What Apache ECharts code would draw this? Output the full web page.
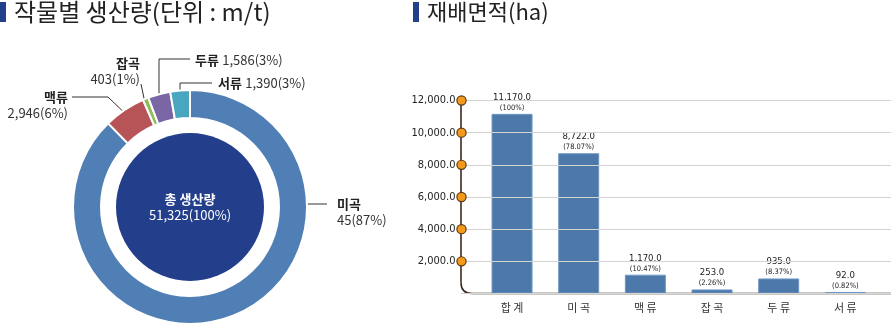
<!DOCTYPE html>
<html>
<head>
<meta charset="utf-8">
<script src="https://cdn.jsdelivr.net/npm/echarts@6/dist/echarts.min.js"></script>
<style>
html, body { margin: 0; padding: 0; background: #fff; }
#chart { width: 891px; height: 328px; }
</style>
</head>
<body>
<div id="chart"></div>
<script>
// Production by crop (m/t)
const cropNames = ['미곡', '맥류', '잡곡', '두류', '서류'];
const cropOutput = [45000, 2946, 403, 1586, 1390];
const cropOutputText = ['45', '2,946', '403', '1,586', '1,390'];
const cropShare = [87, 6, 1, 3, 3];
const totalLabel = '총 생산량';
const totalOutput = 51325;

// Cultivated area (ha)
const areaCategories = ['합 계', '미 곡', '맥 류', '잡 곡', '두 류', '서 류'];
const areaValues = [11170, 8722, 1170, 253, 935, 92];
const areaShares = ['100%', '78.07%', '10.47%', '2.26%', '8.37%', '0.82%'];
const areaAxisMax = 12000;
const areaAxisStep = 2000;

const cropColors = ['#4f7fb4', '#b65457', '#8dbd5a', '#7a66a4', '#48a7bf'];
const KR = "'Noto Sans CJK KR', 'Noto Sans', sans-serif";
const NARROW = "'Liberation Sans Narrow', 'DejaVu Sans Condensed', sans-serif";

// Where each donut label sits, and the bent leader line that points into its slice
const pieLabelPlace = [
  { x: 337, y: 196, align: 'left',  va: 'top',    line: [[292, 204], [310, 204], [327, 204]] },
  { x: 68,  y: 89,  align: 'right', va: 'top',    line: [[132, 120], [108, 97], [72, 97]] },
  { x: 140, y: 55,  align: 'right', va: 'top',    line: [[150, 122], [145, 103], [141, 84]] },
  { x: 195, y: 60,  align: 'left',  va: 'middle', line: [[159, 107], [159, 59], [190, 59]] },
  { x: 218, y: 83,  align: 'left',  va: 'middle', line: [[180, 103], [180, 83], [212, 83]] }
];

const fmt1 = v => v.toLocaleString('en-US', { minimumFractionDigits: 1, maximumFractionDigits: 1 });

const pieData = cropNames.map((n, i) => ({
  name: n,
  value: cropOutput[i],
  itemStyle: { color: cropColors[i] }
}));

// Bar plot area and the wider frame that carries the value axis
const plotTop = 100.5, plotBottom = 34.5;
const frameLeft = 461;
const baseY = 328 - plotBottom;
const cornerR = 11;
const frameStyle = { stroke: '#3b2a20', lineWidth: 1.6, fill: null };

const chart = echarts.init(document.getElementById('chart'), null, { renderer: 'canvas' });

chart.setOption({
  animation: false,
  backgroundColor: '#fff',
  title: [
    {
      text: '작물별 생산량(단위 : m/t)', left: 14, top: 0, padding: 0,
      textStyle: { fontFamily: KR, fontSize: 24, fontWeight: 'normal', color: '#222', lineHeight: 24 }
    },
    {
      text: '재배면적(ha)', left: 427, top: 0, padding: 0,
      textStyle: { fontFamily: KR, fontSize: 22, fontWeight: 'normal', color: '#222', lineHeight: 24 }
    }
  ],
  graphic: [
    { type: 'rect', shape: { x: 0, y: 2, width: 6, height: 20 }, style: { fill: '#233f8c' } },
    { type: 'rect', shape: { x: 413, y: 2, width: 6, height: 20 }, style: { fill: '#233f8c' } },
    {
      type: 'line', z: 1,
      shape: { x1: frameLeft, y1: plotTop, x2: frameLeft, y2: baseY - cornerR },
      style: frameStyle
    },
    {
      type: 'bezierCurve', z: 1,
      shape: {
        x1: frameLeft, y1: baseY - cornerR,
        cpx1: frameLeft, cpy1: baseY,
        x2: frameLeft + cornerR, y2: baseY
      },
      style: frameStyle
    },
    {
      type: 'line', z: 1,
      shape: { x1: frameLeft + cornerR, y1: baseY, x2: 891, y2: baseY },
      style: frameStyle
    }
  ],
  grid: [
    { left: 478.7, right: 12.3, top: plotTop, bottom: plotBottom },
    { left: frameLeft, right: 0, top: plotTop, bottom: plotBottom }
  ],
  xAxis: [
    {
      type: 'category', gridIndex: 0, data: areaCategories,
      axisLine: { show: false }, axisTick: { show: false },
      axisLabel: { margin: 9, fontFamily: KR, fontSize: 11, color: '#333' }
    },
    { type: 'value', gridIndex: 1, min: 0, max: 1, show: false }
  ],
  yAxis: [
    { type: 'value', gridIndex: 0, min: 0, max: areaAxisMax, interval: areaAxisStep, show: false },
    {
      type: 'value', gridIndex: 1, min: 0, max: areaAxisMax, interval: areaAxisStep, z: 10,
      axisLine: { show: false }, axisTick: { show: false },
      splitLine: { lineStyle: { color: '#d3d3d3', width: 1 } },
      axisLabel: {
        margin: -4.5,
        formatter: v => v === 0 ? '' : '{t|' + fmt1(v) + '}{d|}',
        rich: {
          t: { fontFamily: NARROW, fontSize: 11, color: '#222', padding: [0, 2, 0, 0] },
          d: {
            width: 8, height: 8, borderRadius: 4, verticalAlign: 'middle',
            backgroundColor: '#f39a1c', borderColor: '#5a3a1a', borderWidth: 1.2
          }
        }
      }
    }
  ],
  series: [
    {
      type: 'pie',
      center: [190, 207],
      radius: [89, 117],
      startAngle: 90,
      clockwise: true,
      avoidLabelOverlap: false,
      silent: true,
      itemStyle: { borderColor: '#fff', borderWidth: 2 },
      data: pieData,
      label: {
        show: true,
        position: 'outside',
        formatter: p => {
          const i = p.dataIndex;
          const value = cropOutputText[i] + '(' + cropShare[i] + '%)';
          return pieLabelPlace[i].va === 'top'
            ? '{n|' + p.name + '}\n{v|' + value + '}'
            : '{n|' + p.name + '} {v|' + value + '}';
        },
        rich: {
          n: { fontFamily: KR, fontSize: 13, fontWeight: 'bold', color: '#222', lineHeight: 16 },
          v: { fontFamily: KR, fontSize: 13, color: '#333', lineHeight: 16 }
        }
      },
      labelLine: { show: true, lineStyle: { color: '#333', width: 1 } },
      labelLayout: p => {
        const s = pieLabelPlace[p.dataIndex];
        return { x: s.x, y: s.y, align: s.align, verticalAlign: s.va, labelLinePoints: s.line };
      }
    },
    {
      type: 'pie',
      center: [190, 207],
      radius: [0, 74],
      silent: true,
      data: [{ name: totalLabel, value: totalOutput, itemStyle: { color: '#233f8c' } }],
      label: {
        show: true,
        position: 'center',
        formatter: p => '{n|' + p.name + '}\n{v|' + p.value.toLocaleString('en-US') + '(100%)}',
        rich: {
          n: { fontFamily: KR, fontSize: 13, fontWeight: 'bold', color: '#fff', lineHeight: 16 },
          v: { fontFamily: KR, fontSize: 13, color: '#fff', lineHeight: 16 }
        }
      },
      labelLine: { show: false }
    },
    {
      type: 'bar',
      xAxisIndex: 0, yAxisIndex: 0,
      barWidth: 41,
      data: areaValues,
      itemStyle: { color: '#4d78aa', borderColor: '#7096c2', borderWidth: 1 },
      label: {
        show: true,
        position: 'top',
        distance: 1,
        formatter: p => '{v|' + fmt1(p.value) + '}\n{p|(' + areaShares[p.dataIndex] + ')}',
        rich: {
          v: { fontFamily: NARROW, fontSize: 9.5, color: '#222', lineHeight: 11 },
          p: { fontFamily: NARROW, fontSize: 7.5, color: '#222', lineHeight: 10 }
        }
      }
    }
  ]
});
</script>
</body>
</html>
